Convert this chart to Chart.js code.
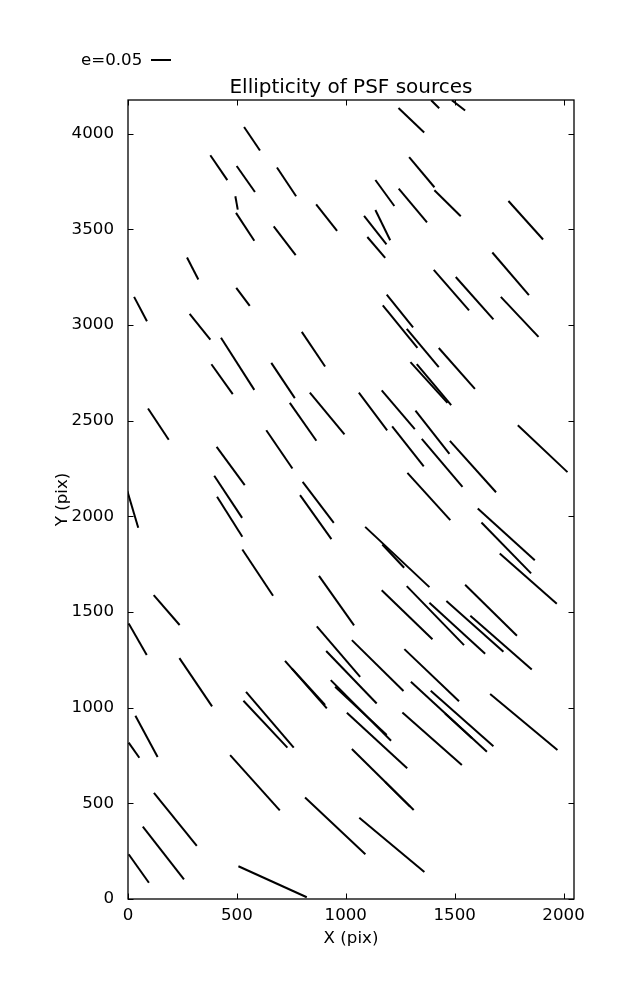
<!DOCTYPE html>
<html>
<head>
<meta charset="utf-8">
<script src="https://cdn.jsdelivr.net/npm/chart.js@4/dist/chart.umd.min.js"></script>
<style>
  html, body { margin: 0; padding: 0; background: #fff; }
  canvas { display: block; }
</style>
</head>
<body>
<canvas id="myChart" width="637" height="1000"></canvas>
<script>
// whisker segments, in pixel units of the CCD frame (start -> end)
const xStart = [
  533, 378, 499, 684, 493, 864, 496, 669, 271, 497,
  28, 1392, 1487, 1242, 1291, 1136, 1243, 1407, 1747, 1084,
  1136, 1099, 1673, 1404, 1505, 1712, 1188, 283, 427, 383,
  798, 658, 92, 743, 835, 635, 407, 396, 409, 802,
  790, -3, 1170, 1280, 1427, 1297, 1326, 1060, 1165, 1320,
  1213, 1349, 1478, 1790, 1283, 525, 877, 118, 3, 236,
  867, 910, 721, 752, 931, 951, 1028, 1606, 1623, 1707,
  1089, 1168, 1548, 1165, 1280, 1384, 1462, 1572, 1269, 1299,
  1390, 1456, 1663, 530, 542, 34, 3, 469, 813, 119,
  68, 3, 507, 1005, 1260, 1028, 1181, 1062
];
const yStart = [
  4035, 3887, 3831, 3823, 3673, 3631, 3586, 3516, 3353, 3194,
  3147, 4175, 4175, 4134, 3877, 3758, 3713, 3704, 3648, 3570,
  3601, 3460, 3379, 3288, 3251, 3147, 3159, 3058, 2933, 2795,
  2964, 2802, 2564, 2593, 2647, 2450, 2363, 2212, 2102, 2180,
  2111, 2132, 3102, 2980, 2880, 2806, 2795, 2647, 2658, 2553,
  2470, 2405, 2394, 2476, 2227, 1827, 1689, 1588, 1440, 1259,
  1425, 1296, 1245, 1205, 1144, 1109, 1353, 2041, 1968, 1806,
  1945, 1853, 1642, 1614, 1635, 1548, 1558, 1480, 1306, 1135,
  1088, 970, 1071, 1036, 1083, 958, 817, 752, 531, 555,
  378, 234, 171, 973, 975, 784, 612, 425
];
const xEnd = [
  606, 456, 583, 772, 504, 960, 580, 770, 323, 559,
  87, 1429, 1548, 1360, 1407, 1223, 1373, 1528, 1906, 1187,
  1204, 1181, 1841, 1566, 1678, 1885, 1309, 378, 580, 481,
  905, 766, 187, 865, 994, 755, 536, 524, 525, 945,
  934, 47, 1329, 1427, 1593, 1467, 1484, 1190, 1317, 1476,
  1358, 1536, 1690, 2018, 1480, 666, 1038, 237, 86, 386,
  1066, 1142, 913, 905, 1208, 1188, 1265, 1868, 1851, 1969,
  1384, 1268, 1786, 1398, 1543, 1640, 1724, 1854, 1520, 1648,
  1678, 1580, 1972, 732, 761, 136, 52, 697, 1090, 316,
  257, 96, 821, 1282, 1533, 1312, 1295, 1361
];
const yEnd = [
  3912, 3757, 3695, 3673, 3603, 3492, 3440, 3365, 3238, 3100,
  3020, 4133, 4121, 4006, 3720, 3622, 3536, 3568, 3447, 3422,
  3443, 3351, 3156, 3076, 3029, 2938, 2987, 2924, 2661, 2639,
  2783, 2618, 2400, 2395, 2428, 2250, 2163, 1992, 1893, 1966,
  1881, 1940, 2880, 2780, 2666, 2593, 2581, 2449, 2456, 2327,
  2261, 2154, 2126, 2231, 1980, 1585, 1430, 1432, 1275, 1007,
  1161, 1022, 996, 1014, 827, 857, 1087, 1770, 1702, 1543,
  1630, 1731, 1376, 1358, 1327, 1282, 1292, 1200, 1034, 770,
  799, 840, 779, 791, 791, 742, 738, 463, 234, 278,
  103, 85, 9, 683, 700, 465, 483, 141
];

const xTicks = [0, 500, 1000, 1500, 2000];
const yTicks = [0, 500, 1000, 1500, 2000, 2500, 3000, 3500, 4000];
const keyLabel = "e=0.05";

const FONT = "'DejaVu Sans', sans-serif";

const datasets = xStart.map((x0, i) => ({
  data: [{ x: x0, y: yStart[i] }, { x: xEnd[i], y: yEnd[i] }],
  showLine: true,
  borderColor: "#000",
  borderWidth: 2,
  pointRadius: 0,
  pointHoverRadius: 0
}));

// inward ticks on all sides, the frame, and the whisker scale key
const frameAndKey = {
  id: "frameAndKey",
  afterDraw(chart) {
    const { ctx, chartArea: a, scales: { x, y } } = chart;
    const len = 5.5;
    ctx.save();
    ctx.strokeStyle = "#000";
    ctx.lineWidth = 1;
    ctx.beginPath();
    xTicks.forEach(v => {
      const px = Math.round(x.getPixelForValue(v)) + 0.5;
      ctx.moveTo(px, a.bottom); ctx.lineTo(px, a.bottom - len);
      ctx.moveTo(px, a.top); ctx.lineTo(px, a.top + len);
    });
    yTicks.forEach(v => {
      const py = Math.round(y.getPixelForValue(v)) + 0.5;
      ctx.moveTo(a.left, py); ctx.lineTo(a.left + len, py);
      ctx.moveTo(a.right, py); ctx.lineTo(a.right - len, py);
    });
    ctx.stroke();
    ctx.lineWidth = 1.3;
    ctx.strokeRect(a.left, a.top, a.right - a.left, a.bottom - a.top);

    ctx.fillStyle = "#000";
    ctx.font = "16.67px " + FONT;
    ctx.textBaseline = "middle";
    ctx.textAlign = "left";
    ctx.fillText(keyLabel, 81, 61);
    ctx.lineWidth = 2;
    ctx.beginPath();
    ctx.moveTo(151, 60);
    ctx.lineTo(171, 60);
    ctx.stroke();
    ctx.restore();
  }
};

new Chart(document.getElementById("myChart"), {
  type: "scatter",
  data: { datasets: datasets },
  plugins: [frameAndKey],
  options: {
    responsive: false,
    animation: false,
    events: [],
    layout: { padding: { left: 0, right: 63, top: 0, bottom: 0 } },
    plugins: {
      legend: { display: false },
      tooltip: { enabled: false },
      title: {
        display: true,
        text: "Ellipticity of PSF sources",
        fullSize: false,
        color: "#000",
        font: { family: FONT, size: 20, weight: "normal" },
        padding: { top: 76, bottom: 0 }
      }
    },
    scales: {
      x: {
        type: "linear",
        min: 0,
        max: 2048,
        afterBuildTicks: s => { s.ticks = xTicks.map(v => ({ value: v })); },
        afterFit: s => { s.height = 101; },
        grid: { display: false },
        border: { display: false },
        ticks: {
          color: "#000",
          padding: -1,
          maxRotation: 0,
          callback: v => String(v),
          font: { family: FONT, size: 16.67 }
        },
        title: {
          display: true,
          text: "X (pix)",
          color: "#000",
          font: { family: FONT, size: 16.67 },
          padding: { top: 0, bottom: 51 }
        }
      },
      y: {
        type: "linear",
        min: 0,
        max: 4176,
        afterBuildTicks: s => { s.ticks = yTicks.map(v => ({ value: v })); },
        afterFit: s => { s.width = 128; },
        grid: { display: false },
        border: { display: false },
        ticks: {
          color: "#000",
          padding: 6,
          callback: v => String(v),
          font: { family: FONT, size: 16.67 }
        },
        title: {
          display: true,
          text: "Y (pix)",
          color: "#000",
          font: { family: FONT, size: 16.67 },
          padding: { top: 53, bottom: 0 }
        }
      }
    }
  }
});
</script>
</body>
</html>
